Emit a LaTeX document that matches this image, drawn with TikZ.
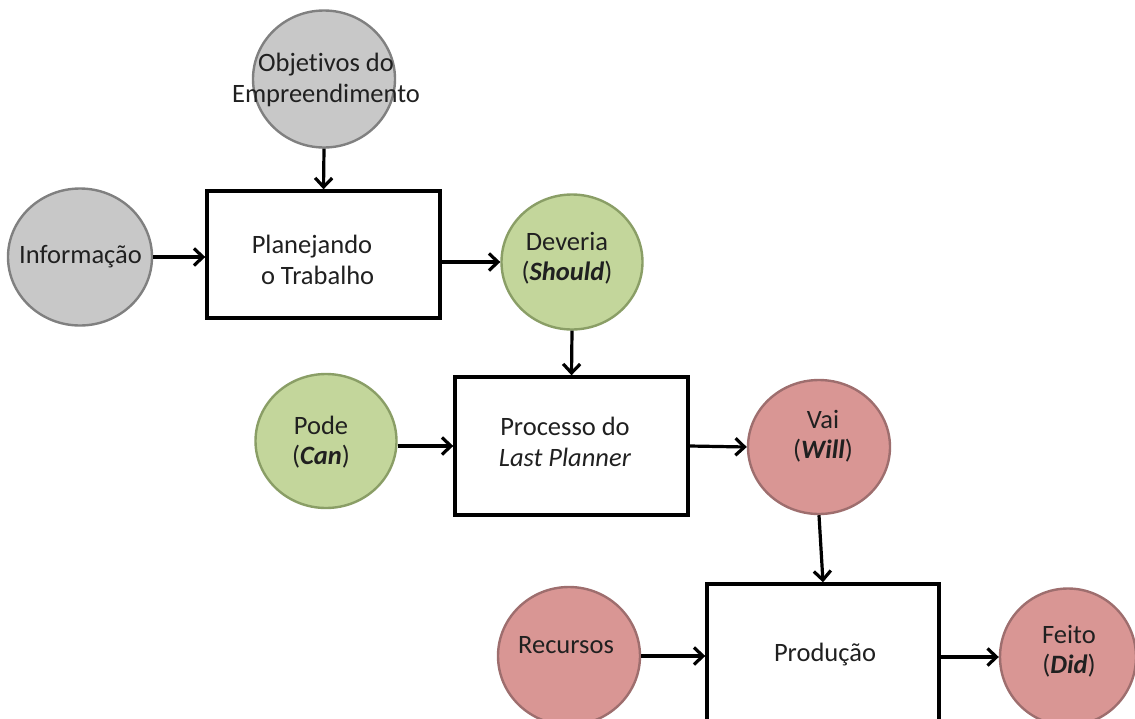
\documentclass[tikz,border=0pt]{standalone}
\usepackage{fontspec}
\setmainfont{Carlito}[Ligatures=NoCommon]
\usetikzlibrary{arrows.meta,shapes.geometric,calc}

\definecolor{greyfill}{RGB}{200,200,200}
\definecolor{greyline}{RGB}{128,128,128}
\definecolor{greenfill}{RGB}{195,214,155}
\definecolor{greenline}{RGB}{138,158,102}
\definecolor{redfill}{RGB}{217,150,148}
\definecolor{redline}{RGB}{158,110,110}
\definecolor{ink}{RGB}{32,32,32}

\begin{document}
\begin{tikzpicture}[x=1pt,y=-1pt,
  blob/.style={ellipse,line width=2.4pt,inner sep=0pt,minimum width=142pt,minimum height=136pt},
  greyblob/.style={blob,fill=greyfill,draw=greyline},
  greenblob/.style={blob,fill=greenfill,draw=greenline},
  redblob/.style={blob,fill=redfill,draw=redline},
  stepbox/.style={rectangle,draw=black,line width=3.4pt,fill=white,inner sep=0pt},
  txt/.style={align=center,text=ink,inner sep=0pt,font=\fontsize{26.5}{30.5}\selectfont},
  flow/.style={-{Straight Barb[length=9pt,width=17pt]},line width=3.2pt}
]
\useasboundingbox (0,0) rectangle (1135,718);

% shapes
\node[greyblob,minimum width=142pt,minimum height=137pt] (obj) at (324,79) {};
\node[greyblob,minimum width=144pt,minimum height=137pt] (info) at (80,257) {};
\node[stepbox,minimum width=233pt,minimum height=127pt] (plan) at (323.5,254.5) {};
\node[greenblob,minimum width=141pt,minimum height=135pt] (dev) at (572,262) {};
\node[stepbox,minimum width=233pt,minimum height=138pt] (proc) at (571.5,446) {};
\node[greenblob,minimum width=141pt,minimum height=134pt] (pode) at (326,441) {};
\node[redblob,minimum width=142pt,minimum height=134pt] (vai) at (819,447) {};
\node[stepbox,minimum width=232pt,minimum height=142pt] (prod) at (823,655) {};
\node[redblob,minimum width=142pt,minimum height=138pt] (rec) at (569,656) {};
\node[redblob,minimum width=136pt,minimum height=137pt] (feito) at (1068,657) {};

% texts
\node[txt] (objtxt) at (326,80) {Objetivos do\\Empreendimento};
\node[txt] (infotxt) at (80.5,257) {Informação};
\node[txt,align=left] (plantxt) at (313,260) {Planejando\\\hspace*{0.35em}o Trabalho};
\node[txt] (devtxt) at (567,258) {Deveria\\(\textbf{\textit{Should}})};
\node[txt] (podetxt) at (321,442) {Pode\\(\textbf{\textit{Can}})};
\node[txt] (proctxt) at (565,442) {Processo do\\\textit{Last Planner}};
\node[txt] (vaitxt) at (823,436) {Vai\\(\textbf{\textit{Will}})};
\node[txt] (rectxt) at (566,645) {Recursos};
\node[txt] (prodtxt) at (825,655) {Produção};
\node[txt] (feitotxt) at (1069,651) {Feito\\(\textbf{\textit{Did}})};

% connectors
\draw[flow] (obj.south) -- (plan.north);
\draw[flow] (info.east) -- (info.east -| plan.west);
\draw[flow] (plan.east |- dev.west) -- (dev.west);
\draw[flow] (dev.south) -- (proc.north);
\draw[flow] (pode.east |- proc.west) -- (proc.west);
\draw[flow] (proc.east) -- (vai.west);
\draw[flow] (vai.south) -- (prod.north);
\draw[flow] (rec.east) -- (rec.east -| prod.west);
\draw[flow] (prod.east |- feito.west) -- (feito.west);
\end{tikzpicture}
\end{document}
